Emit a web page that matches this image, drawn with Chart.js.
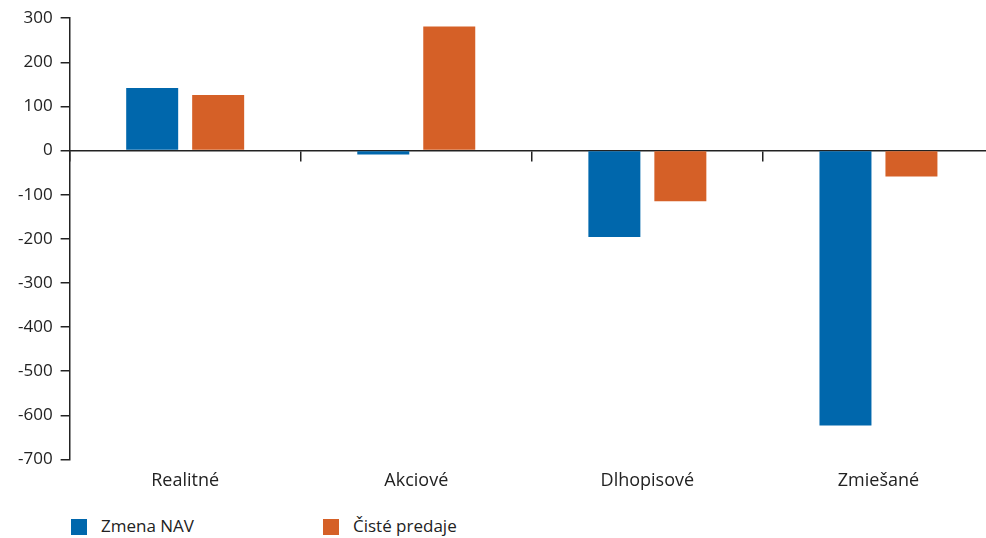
<!DOCTYPE html>
<html>
<head>
<meta charset="utf-8">
<script src="https://cdn.jsdelivr.net/npm/chart.js@4"></script>
<style>
  html, body { margin: 0; padding: 0; background: #fff; overflow: hidden; }
  #wrap { position: relative; width: 994px; height: 495px; }
  .legend { position: absolute; top: 514px; left: 71px; font-family: "Open Sans", sans-serif; font-size: 17px; color: #222; }
  .item { position: absolute; top: 0; white-space: nowrap; line-height: 20px; }
  .item span.box { position: absolute; left: 0; top: 5px; width: 16px; height: 16px; }
  .item span.txt { position: absolute; left: 30px; top: 2px; }
</style>
</head>
<body>
<div id="wrap"><canvas id="chart"></canvas></div>
<div class="legend">
  <div class="item" style="left:0"><span class="box" style="background:#0067AC"></span><span class="txt">Zmena NAV</span></div>
  <div class="item" style="left:252px"><span class="box" style="background:#D56027"></span><span class="txt">Čisté predaje</span></div>
</div>
<script>
const categories = ["Realitné", "Akciové", "Dlhopisové", "Zmiešané"];
const zmenaNav = [142, -9, -196, -623];
const cistePredaje = [126, 281, -115, -59];
const yTicks = [300, 200, 100, 0, -100, -200, -300, -400, -500, -600, -700];

Chart.defaults.font.family = "'Open Sans', sans-serif";
Chart.defaults.font.size = 17;
Chart.defaults.color = "#222";

new Chart(document.getElementById("chart"), {
  type: "bar",
  data: {
    labels: categories,
    datasets: [{
      label: "Zmena NAV",
      backgroundColor: "#0067AC",
      data: zmenaNav
    }, {
      label: "Čisté predaje",
      backgroundColor: "#D56027",
      data: cistePredaje
    }]
  },
  options: {
    responsive: true,
    maintainAspectRatio: false,
    animation: false,
    categoryPercentage: 0.571,
    barPercentage: 0.788,
    layout: {
      padding: { top: 12, right: 0, bottom: 0, left: 10 }
    },
    plugins: {
      legend: { display: false },
      tooltip: { enabled: false }
    },
    scales: {
      x: {
        position: { y: 0 },
        offset: true,
        grid: {
          offset: true,
          drawOnChartArea: false,
          drawTicks: true,
          tickLength: 10,
          color: "#222",
          lineWidth: 1.5
        },
        border: { display: true, color: "#222", width: 1.5 },
        ticks: { display: false }
      },
      x2: {
        type: "category",
        position: "bottom",
        offset: true,
        grid: { display: false },
        border: { display: false },
        ticks: { padding: 3, font: { size: 18 } }
      },
      y: {
        min: -700,
        max: 300,
        afterBuildTicks: (scale) => { scale.ticks = yTicks.map(v => ({ value: v })); },
        grid: {
          drawOnChartArea: false,
          drawTicks: true,
          tickLength: 9,
          color: "#222",
          lineWidth: 1.5
        },
        border: { display: true, color: "#222", width: 1.5 },
        ticks: { padding: 8 }
      }
    }
  }
});
</script>
</body>
</html>
